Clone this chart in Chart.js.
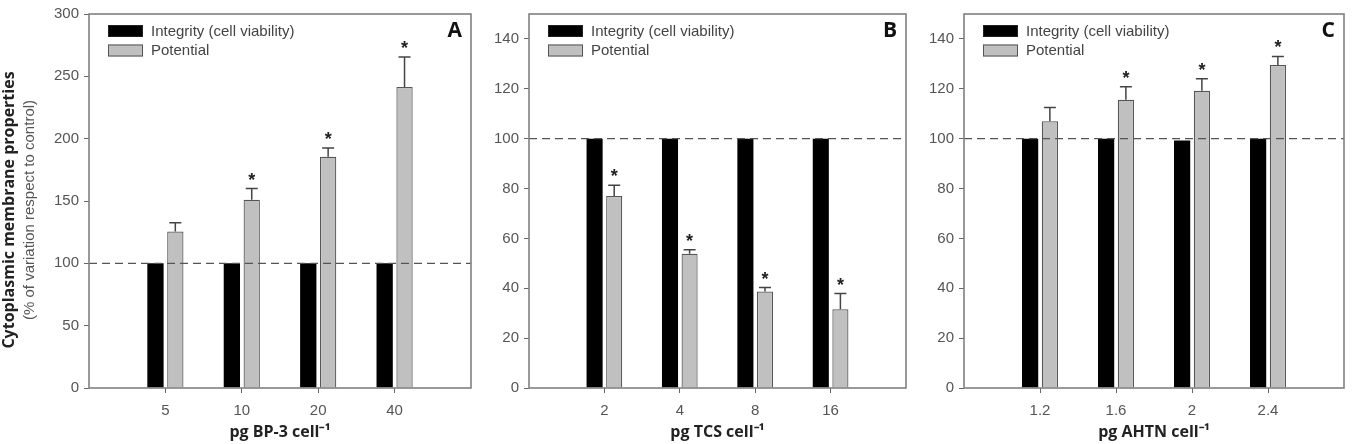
<!DOCTYPE html>
<html>
<head>
<meta charset="utf-8">
<script src="https://cdn.jsdelivr.net/npm/chart.js@4.4.1/dist/chart.umd.min.js"></script>
<style>
    html, body { margin: 0; padding: 0; background: #fff; }
    #wrap { position: relative; width: 1353px; height: 444px; overflow: hidden; }
    .panel { position: absolute; top: 0; height: 444px; }
</style>
</head>
<body>
<div id="wrap">
    <div class="panel" style="left:0px;width:480px"><canvas id="chartA" width="480" height="444"></canvas></div>
    <div class="panel" style="left:475px;width:440px"><canvas id="chartB" width="440" height="444"></canvas></div>
    <div class="panel" style="left:915px;width:438px"><canvas id="chartC" width="438" height="444"></canvas></div>
</div>
<script>
    'use strict';

    var seriesNames = ['Integrity (cell viability)', 'Potential'];
    var controlLevel = 100;

    // Panel A - BP-3
    var doseA = ['5', '10', '20', '40'];
    var integrityA = [100, 100, 100, 100];
    var potentialA = [125.5, 151, 185.5, 241.5];
    var errorA = [7, 9, 7, 24];
    var signifA = [false, true, true, true];

    // Panel B - TCS
    var doseB = ['2', '4', '8', '16'];
    var integrityB = [100, 100, 100, 100];
    var potentialB = [77, 53.8, 38.7, 31.6];
    var errorB = [4.3, 1.6, 1.6, 6.3];
    var signifB = [true, true, true, true];

    // Panel C - AHTN
    var doseC = ['1.2', '1.6', '2', '2.4'];
    var integrityC = [100, 100, 99.3, 100];
    var potentialC = [107, 115.6, 119.2, 129.5];
    var errorC = [5.5, 5.2, 4.8, 3.5];
    var signifC = [false, true, true, true];

    var tickFont = { family: '"Liberation Sans", Arial, sans-serif', size: 15 };
    var tickColor = '#555';

    // frame, control line, error bars, asterisks, legend, panel letter
    var panelDecor = {
        id: 'panelDecor',
        afterDatasetsDraw: function (chart, args, opts) {
            var ctx = chart.ctx;
            var area = chart.chartArea;
            var y = chart.scales.y;

            // dashed control line
            ctx.save();
            ctx.strokeStyle = '#555';
            ctx.lineWidth = 1.3;
            ctx.setLineDash([8, 5]);
            ctx.beginPath();
            ctx.moveTo(area.left, y.getPixelForValue(controlLevel));
            ctx.lineTo(area.right, y.getPixelForValue(controlLevel));
            ctx.stroke();
            ctx.restore();

            // error bars on the Potential bars
            var meta = chart.getDatasetMeta(1);
            var values = chart.data.datasets[1].data;
            ctx.save();
            ctx.strokeStyle = '#444';
            ctx.lineWidth = 1.5;
            ctx.fillStyle = '#222';
            ctx.font = 'bold 18px "Liberation Sans", Arial, sans-serif';
            ctx.textAlign = 'center';
            ctx.textBaseline = 'alphabetic';
            for (var i = 0; i < values.length; i++) {
                if (values[i] == null) continue;
                var bar = meta.data[i];
                var k = i - 1;
                var yTop = y.getPixelForValue(values[i] + opts.errors[k]);
                ctx.beginPath();
                ctx.moveTo(bar.x, bar.y);
                ctx.lineTo(bar.x, yTop);
                ctx.moveTo(bar.x - 6, yTop);
                ctx.lineTo(bar.x + 6, yTop);
                ctx.stroke();
                if (opts.signif[k]) {
                    ctx.fillText('*', bar.x, yTop - 3);
                }
            }
            ctx.restore();
        },
        afterDraw: function (chart, args, opts) {
            var ctx = chart.ctx;
            var area = chart.chartArea;
            ctx.save();

            // box round the plot
            ctx.strokeStyle = '#808080';
            ctx.lineWidth = 1.6;
            ctx.strokeRect(area.left, area.top, area.right - area.left, area.bottom - area.top);

            // legend inside the plot
            var lx = area.left + 19;
            var ly = area.top + 11;
            ctx.font = '15px "Liberation Sans", Arial, sans-serif';
            ctx.textBaseline = 'middle';
            ctx.textAlign = 'left';
            chart.data.datasets.forEach(function (ds, n) {
                var top = ly + n * 19.5;
                ctx.fillStyle = ds.backgroundColor;
                ctx.fillRect(lx, top, 35, 12);
                ctx.strokeStyle = ds.borderColor;
                ctx.lineWidth = 1;
                ctx.strokeRect(lx + 0.5, top + 0.5, 34, 11);
                ctx.fillStyle = '#444';
                ctx.fillText(ds.label, lx + 43, top + 6.5);
            });

            // panel letter
            ctx.fillStyle = '#111';
            ctx.font = 'bold 21px "Open Sans", sans-serif';
            ctx.textAlign = 'right';
            ctx.fillText(opts.letter, area.right - 9, area.top + 17);

            // y axis title, only on the first panel
            if (opts.yTitle) {
                ctx.translate(9, 210);
                ctx.rotate(-Math.PI / 2);
                ctx.textAlign = 'center';
                ctx.fillStyle = '#222';
                ctx.font = 'bold 16px "Open Sans", sans-serif';
                ctx.fillText(opts.yTitle[0], 0, 0);
                ctx.fillStyle = '#555';
                ctx.font = '15px "Liberation Sans", Arial, sans-serif';
                ctx.fillText(opts.yTitle[1], 0, 21);
            }
            ctx.restore();
        }
    };

    function makePanel(canvasId, dose, integrity, potential, errors, signif, cfg) {
        var labels = [''].concat(dose, ['']);
        var ctx = document.getElementById(canvasId).getContext('2d');
        return new Chart(ctx, {
            type: 'bar',
            data: {
                labels: labels,
                datasets: [{
                    label: seriesNames[0],
                    data: [null].concat(integrity, [null]),
                    backgroundColor: '#000000',
                    borderColor: '#222222',
                    borderWidth: 0
                },
                {
                    label: seriesNames[1],
                    data: [null].concat(potential, [null]),
                    backgroundColor: '#c0c0c0',
                    borderColor: '#555555',
                    borderWidth: 1.2
                }]
            },
            options: {
                responsive: false,
                animation: false,
                categoryPercentage: 0.52,
                barPercentage: 0.82,
                layout: {
                    padding: { left: 0, right: cfg.padRight, top: 8, bottom: 0 }
                },
                plugins: {
                    legend: { display: false },
                    tooltip: { enabled: false },
                    panelDecor: {
                        letter: cfg.letter,
                        errors: errors,
                        signif: signif,
                        yTitle: cfg.yTitle
                    }
                },
                scales: {
                    x: {
                        offset: false,
                        grid: {
                            offset: false,
                            drawOnChartArea: false,
                            tickLength: 5,
                            tickColor: function (c) {
                                return labels[c.index] === '' ? 'rgba(0,0,0,0)' : '#666';
                            }
                        },
                        border: { display: false },
                        ticks: { font: tickFont, color: tickColor, padding: 9, maxRotation: 0, autoSkip: false },
                        title: {
                            display: true,
                            text: cfg.xTitle,
                            color: '#222',
                            font: { family: '"Open Sans", sans-serif', size: 16, weight: 'bold' },
                            padding: { top: 0, bottom: 2 }
                        },
                        afterFit: function (scale) { scale.height = 56; }
                    },
                    y: {
                        min: 0,
                        max: cfg.yMax,
                        grid: { drawOnChartArea: false, tickLength: 5, tickColor: '#666' },
                        border: { display: false },
                        ticks: { stepSize: cfg.yStep, includeBounds: false, font: tickFont, color: tickColor, padding: 5 },
                        afterFit: function (scale) { scale.width = cfg.yWidth; }
                    }
                }
            },
            plugins: [panelDecor]
        });
    }

    makePanel('chartA', doseA, integrityA, potentialA, errorA, signifA, {
        letter: 'A', xTitle: 'pg BP-3 cell\u207B\u00B9', yMax: 300, yStep: 50, yWidth: 89, padRight: 9,
        yTitle: ['Cytoplasmic membrane properties', '(% of variation respect to control)']
    });
    makePanel('chartB', doseB, integrityB, potentialB, errorB, signifB, {
        letter: 'B', xTitle: 'pg TCS cell\u207B\u00B9', yMax: 150, yStep: 20, yWidth: 54, padRight: 7
    });
    makePanel('chartC', doseC, integrityC, potentialC, errorC, signifC, {
        letter: 'C', xTitle: 'pg AHTN cell\u207B\u00B9', yMax: 150, yStep: 20, yWidth: 49, padRight: 7
    });
</script>
</body>
</html>
